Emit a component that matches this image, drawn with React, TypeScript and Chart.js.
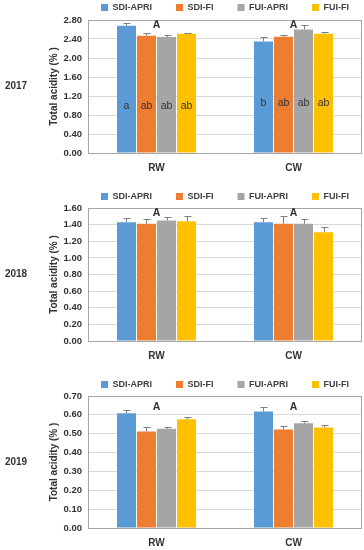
import React, { useEffect, useRef } from 'react';
import { Chart, registerables } from 'chart.js';

Chart.register(...registerables);

// ---------- data ----------
const categories = ['RW', 'CW'];
const seriesNames = ['SDI-APRI', 'SDI-FI', 'FUI-APRI', 'FUI-FI'];
const seriesColors = ['#5B9BD5', '#ED7D31', '#A5A5A5', '#FFC000'];
const years = ['2017', '2018', '2019'];
const yAxisTitle = 'Total acidity (% )';

// values per series: [RW, CW]
const values2017 = [[2.68, 2.35], [2.47, 2.45], [2.44, 2.6], [2.51, 2.51]];
const errors2017 = [[0.05, 0.09], [0.06, 0.03], [0.05, 0.09], [0.02, 0.04]];
const groupLetters2017 = ['A', 'A'];
const barLetters2017 = [['a', 'b'], ['ab', 'ab'], ['ab', 'ab'], ['ab', 'ab']];

const values2018 = [[1.43, 1.43], [1.41, 1.41], [1.45, 1.41], [1.44, 1.307]];
const errors2018 = [[0.055, 0.045], [0.055, 0.09], [0.045, 0.06], [0.06, 0.07]];
const groupLetters2018 = ['A', 'A'];
const barLetters2018 = [['', ''], ['', ''], ['', ''], ['', '']];

const values2019 = [[0.609, 0.618], [0.512, 0.522], [0.526, 0.555], [0.577, 0.533]];
const errors2019 = [[0.018, 0.022], [0.021, 0.021], [0.011, 0.011], [0.014, 0.011]];
const groupLetters2019 = ['A', 'A'];
const barLetters2019 = [['', ''], ['', ''], ['', ''], ['', '']];

const yMax = [2.8, 1.6, 0.7];
const yStep = [0.4, 0.2, 0.1];

// ---------- layout ----------
const FONT = "'Liberation Sans', Arial, sans-serif";
const TEXT = '#333333';
const CANVAS_W = 450; // extends past the visible page so the legend centres over the plot
const PAGE_W = 364;

type Panel = {
  year: string;
  values: number[][];
  errors: number[][];
  groupLetters: string[];
  barLetters: string[][];
  max: number;
  step: number;
  groupLetterY: number;
  barLetterY: number[];
  top: number;
  height: number;
  legendHeight: number;
};

const panels: Panel[] = [
  {
    year: years[0], values: values2017, errors: errors2017, groupLetters: groupLetters2017,
    barLetters: barLetters2017, max: yMax[0], step: yStep[0], groupLetterY: 2.7, barLetterY: [0.99, 1.05],
    top: -21, height: 204, legendHeight: 41,
  },
  {
    year: years[1], values: values2018, errors: errors2018, groupLetters: groupLetters2018,
    barLetters: barLetters2018, max: yMax[1], step: yStep[1], groupLetterY: 1.535, barLetterY: [0.5, 0.5],
    top: 168, height: 203, legendHeight: 40,
  },
  {
    year: years[2], values: values2019, errors: errors2019, groupLetters: groupLetters2019,
    barLetters: barLetters2019, max: yMax[2], step: yStep[2], groupLetterY: 0.643, barLetterY: [0.2, 0.2],
    top: 356, height: 202, legendHeight: 40,
  },
];

function makePlugin(p: Panel) {
  return {
    id: 'annotate' + p.year,
    afterDatasetsDraw(chart: any) {
      const { ctx, chartArea, scales } = chart;
      const y = scales.y;
      const x = scales.x;
      ctx.save();
      // plot border
      ctx.strokeStyle = '#A6A6A6';
      ctx.lineWidth = 1;
      ctx.strokeRect(
        Math.round(chartArea.left) + 0.5,
        Math.round(chartArea.top) + 0.5,
        Math.round(chartArea.right - chartArea.left) - 1,
        Math.round(chartArea.bottom - chartArea.top)
      );
      // error bars
      ctx.strokeStyle = '#7F7F7F';
      p.values.forEach((series, d) => {
        const meta = chart.getDatasetMeta(d);
        series.forEach((v, i) => {
          const bar = meta.data[i];
          const bx = Math.round(bar.x) + 0.5;
          const yTop = Math.round(y.getPixelForValue(v + p.errors[d][i])) + 0.5;
          const yBar = bar.y;
          ctx.beginPath();
          ctx.moveTo(bx, yBar);
          ctx.lineTo(bx, yTop);
          ctx.moveTo(bx - 3, yTop);
          ctx.lineTo(bx + 4, yTop);
          ctx.stroke();
        });
      });
      // letters inside bars
      ctx.fillStyle = TEXT;
      ctx.textAlign = 'center';
      ctx.textBaseline = 'middle';
      ctx.font = `10.5px ${FONT}`;
      p.barLetters.forEach((letters, d) => {
        const meta = chart.getDatasetMeta(d);
        letters.forEach((t, i) => {
          if (!t) return;
          ctx.fillText(t, meta.data[i].x, y.getPixelForValue(p.barLetterY[i]));
        });
      });
      // group letters
      ctx.font = `bold 10.5px ${FONT}`;
      p.groupLetters.forEach((t, i) => {
        ctx.fillText(t, x.getPixelForValue(i), y.getPixelForValue(p.groupLetterY));
      });
      // year label
      ctx.font = `bold 10px ${FONT}`;
      ctx.fillText(p.year, 16, (chartArea.top + chartArea.bottom) / 2);
      ctx.restore();
    },
  };
}

function YearChart({ p }: { p: Panel }) {
  const ref = useRef<HTMLCanvasElement>(null);
  useEffect(() => {
    const chart = new Chart(ref.current as HTMLCanvasElement, {
      type: 'bar',
      data: {
        labels: categories,
        datasets: seriesNames.map((name, d) => ({
          label: name,
          data: p.values[d],
          backgroundColor: seriesColors[d],
          borderWidth: 0,
          barPercentage: 0.95,
          categoryPercentage: 0.584,
        })),
      },
      options: {
        responsive: false,
        animation: false,
        devicePixelRatio: 1,
        layout: { padding: 0 },
        plugins: {
          legend: {
            position: 'top',
            fullSize: true,
            maxHeight: p.legendHeight,
            labels: {
              boxWidth: 7,
              boxHeight: 7,
              padding: 24,
              color: '#404040',
              font: { family: FONT, size: 9, weight: 'bold' },
            },
          },
          tooltip: { enabled: false },
          title: { display: false },
        },
        scales: {
          x: {
            grid: { display: false, drawTicks: false },
            border: { display: false },
            ticks: {
              padding: 9,
              color: TEXT,
              font: { family: FONT, size: 10, weight: 'bold' },
            },
          },
          y: {
            min: 0,
            max: p.max,
            afterFit: (scale: any) => {
              scale.width = 88;
            },
            grid: { color: '#D9D9D9', drawTicks: false },
            border: { display: false },
            ticks: {
              stepSize: p.step,
              padding: 6,
              color: TEXT,
              font: { family: FONT, size: 9.5, weight: 'bold' },
              callback: (v: any) => Number(v).toFixed(2),
            },
            title: {
              display: true,
              text: yAxisTitle,
              color: TEXT,
              padding: { top: 48, bottom: 0 },
              font: { family: FONT, size: 10, weight: 'bold' },
            },
          },
          yRight: {
            type: 'linear',
            position: 'right',
            display: true,
            afterFit: (scale: any) => {
              scale.width = CANVAS_W - 362;
            },
            grid: { display: false, drawTicks: false },
            border: { display: false },
            ticks: { display: false },
          },
        },
      },
      plugins: [makePlugin(p)],
    } as any);
    return () => chart.destroy();
  }, [p]);
  return (
    <canvas
      ref={ref}
      width={CANVAS_W}
      height={p.height}
      style={{ position: 'absolute', left: 0, top: p.top, width: CANVAS_W, height: p.height }}
    />
  );
}

export default function App() {
  return (
    <div
      style={{
        position: 'absolute',
        left: 0,
        top: 0,
        width: PAGE_W,
        height: 550,
        overflow: 'hidden',
        background: '#ffffff',
      }}
    >
      {panels.map((p) => (
        <YearChart key={p.year} p={p} />
      ))}
    </div>
  );
}
